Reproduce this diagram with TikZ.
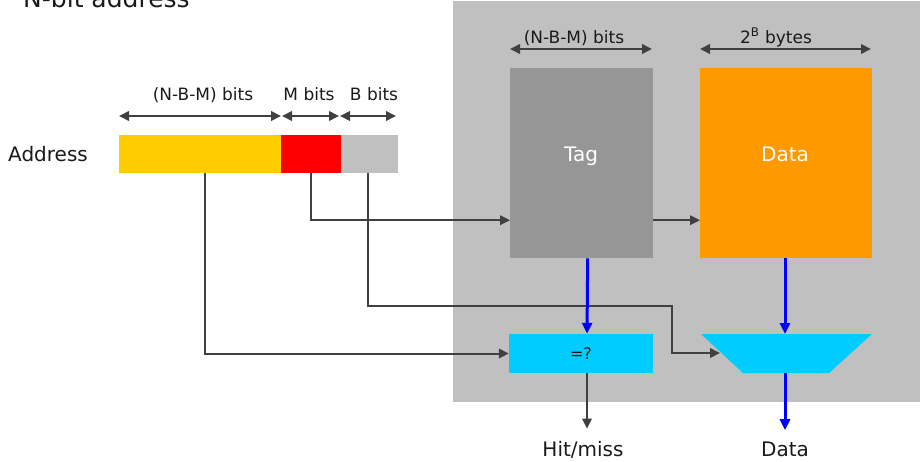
\documentclass[tikz,border=0pt]{standalone}
\usepackage{fontspec}
\setmainfont{DejaVu Sans}
\usetikzlibrary{arrows.meta}
\definecolor{panelgray}{HTML}{C0C0C0}
\definecolor{taggray}{HTML}{969696}
\definecolor{fieldyellow}{HTML}{FFCC00}
\definecolor{fieldred}{HTML}{FF0000}
\definecolor{dataorange}{HTML}{FF9900}
\definecolor{logiccyan}{HTML}{00CCFF}
\definecolor{wire}{HTML}{404040}
\definecolor{ink}{HTML}{1A1A1A}
\tikzset{
  small/.style={font=\fontsize{17}{20}\selectfont, text=ink},
  big/.style={font=\fontsize{20}{24}\selectfont, text=ink},
  field/.style={rectangle, inner sep=0pt, minimum height=38pt, anchor=north west},
  block/.style={rectangle, inner sep=0pt, minimum height=190pt, anchor=north west},
  blocklabel/.style={font=\fontsize{20}{24}\selectfont, text=white, anchor=base, inner sep=0pt},
  conn/.style={draw=wire, line width=2pt, -{Triangle[length=10pt,width=9.5pt]}},
  dimline/.style={draw=wire, line width=2pt,
    {Triangle[length=10pt,width=9.5pt]}-{Triangle[length=10pt,width=9.5pt]}},
  bus/.style={draw=blue, line width=3pt, -{Triangle[length=11pt,width=10pt]}},
}
\begin{document}
\begin{tikzpicture}[x=1pt, y=-1pt]
\useasboundingbox (0,0) rectangle (920,461);

% cache panel
\fill[panelgray] (453,1) rectangle (920,402);

% title
\node[anchor=base west, font=\fontsize{25}{30}\selectfont, text=ink, inner sep=0pt] (title) at (23,7) {N-bit address};

% address fields
\node[big, anchor=base west, inner sep=0pt] (addr) at (8,161) {Address};
\node[field, fill=fieldyellow, minimum width=162pt] (ya) at (119,135) {};
\node[field, fill=fieldred, minimum width=60pt] (rb) at (281,135) {};
\node[field, fill=panelgray, minimum width=57pt] (gb) at (341,135) {};

% field widths
\draw[dimline] (119,116) -- (281,116);
\draw[dimline] (282,116) -- (339,116);
\draw[dimline] (340,116) -- (396,116);
\node[small, anchor=base, inner sep=0pt] (wtag) at (203,100) {(N-B-M) bits};
\node[small, anchor=base, inner sep=0pt] (wset) at (309,100) {M bits};
\node[small, anchor=base, inner sep=0pt] (woff) at (374,100) {B bits};

% tag and data arrays
\node[block, fill=taggray, minimum width=143pt] (tag) at (510,68) {};
\node[block, fill=dataorange, minimum width=172pt] (data) at (700,68) {};
\node[blocklabel] (taglbl) at (581,161) {Tag};
\node[blocklabel] (datalbl) at (785,161) {Data};
\draw[dimline] (510,49) -- (652,49);
\draw[dimline] (700,49) -- (871,49);
\node[small, anchor=base, inner sep=0pt] (wtag2) at (574,43) {(N-B-M) bits};
\node[small, anchor=base, inner sep=0pt] (wdata) at (776,43) {2\textsuperscript{B} bytes};

% comparator
\node[rectangle, fill=logiccyan, minimum width=144pt, minimum height=39pt, inner sep=0pt,
  font=\fontsize{16}{19}\selectfont, text=ink] (cmp) at (581,353.5) {=?};

% multiplexer
\fill[logiccyan] (701,334) -- (872,334) -- (829,373) -- (743,373) -- cycle;
\coordinate (muxtop) at (785,334);
\coordinate (muxbot) at (785,373);
\coordinate (muxin) at (720,353);

% outputs
\node[big, anchor=base, inner sep=0pt] (hit) at (583,456) {Hit/miss};
\node[big, anchor=base, inner sep=0pt] (dout) at (785,456) {Data};

% address wiring
\coordinate (bend) at (672,306);
\draw[conn] ([xshift=5pt]ya.south) |- (cmp.west);
\draw[conn] (rb.south) |- ([yshift=-57pt]tag.west);
\draw[conn] ([xshift=-1.5pt]gb.south) |- (bend) |- (muxin);
\draw[conn] ([yshift=-57pt]tag.east) -- ([yshift=-57pt]data.west);

% data paths
\draw[bus] ([xshift=6pt]tag.south) -- ([xshift=6pt]cmp.north);
\draw[bus] (data.south -| muxtop) -- (muxtop);
\draw[bus] (muxbot) -- ([yshift=11pt]dout.north -| muxbot);
\draw[conn] ([xshift=6pt]cmp.south) -- ([xshift=6pt,yshift=12pt]cmp.south |- hit.north);
\end{tikzpicture}
\end{document}
